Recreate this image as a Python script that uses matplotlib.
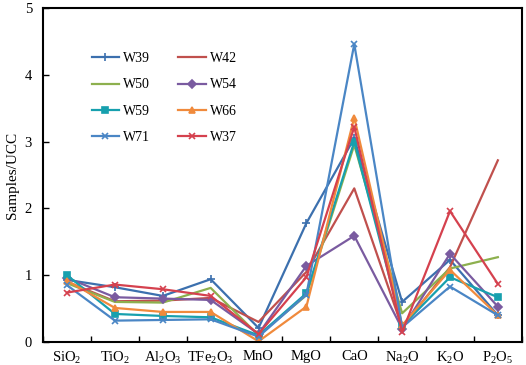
import matplotlib
matplotlib.use("Agg")
import matplotlib.pyplot as plt
import numpy as np

plt.rcParams['font.family'] = ['Liberation Serif', 'DejaVu Serif']
plt.rcParams['mathtext.fontset'] = 'custom'
plt.rcParams['mathtext.rm'] = 'Liberation Serif'
plt.rcParams['mathtext.it'] = 'Liberation Serif:italic'

categories = [r'SiO$\mathregular{_2}$', r'TiO$\mathregular{_2}$', r'Al$\mathregular{_2}$O$\mathregular{_3}$',
              r'TFe$\mathregular{_2}$O$\mathregular{_3}$', 'MnO', 'MgO', 'CaO',
              r'Na$\mathregular{_2}$O', r'K$\mathregular{_2}$O', r'P$\mathregular{_2}$O$\mathregular{_5}$']

W39 = [0.93, 0.82, 0.69, 0.94, 0.21, 1.78, 3.05, 0.60, 1.23, 0.40]
W42 = [0.90, 0.61, 0.62, 0.66, 0.30, 1.05, 2.30, 0.22, 1.12, 2.72]
W50 = [0.88, 0.60, 0.59, 0.81, 0.10, 0.70, 2.95, 0.43, 1.10, 1.27]
W54 = [0.96, 0.67, 0.65, 0.63, 0.12, 1.14, 1.59, 0.20, 1.32, 0.53]
W59 = [1.00, 0.42, 0.39, 0.37, 0.10, 0.73, 3.00, 0.24, 0.97, 0.67]
W66 = [0.92, 0.51, 0.45, 0.45, 0.01, 0.53, 3.36, 0.25, 1.08, 0.40]
W71 = [0.85, 0.32, 0.33, 0.34, 0.08, 0.71, 4.46, 0.22, 0.83, 0.40]
W37 = [0.74, 0.86, 0.79, 0.69, 0.12, 0.97, 3.22, 0.15, 1.96, 0.87]

series = [
    ('W39', W39, '#3C70AE', '+', 6),
    ('W42', W42, '#C0504D', None, 0),
    ('W50', W50, '#8DB04E', None, 0),
    ('W54', W54, '#7A5BA0', 'D', 4),
    ('W59', W59, '#17A0AE', 's', 5),
    ('W66', W66, '#F08A3C', '^', 5),
    ('W71', W71, '#4A86C5', 'x', 5),
    ('W37', W37, '#D5414E', 'x', 5),
]

fig = plt.figure(figsize=(5.26, 3.65), dpi=100)
ax = fig.add_axes([0.082, 0.063, 0.910, 0.915])

x = np.arange(len(categories))
handles = {}
for name, vals, col, mk, ms in series:
    kw = {}
    if mk is not None:
        kw = dict(marker=mk, markersize=ms, markeredgewidth=1.2,
                  markerfacecolor=col, markeredgecolor=col)
    h, = ax.plot(x, vals, color=col, linewidth=1.6, label=name, **kw)
    handles[name] = h

ax.set_xlim(-0.5, len(categories) - 0.5)
ax.set_ylim(0, 5)
ax.set_yticks([0, 1, 2, 3, 4, 5])
ax.set_xticks(x)
ax.set_xticklabels(categories, fontsize=10.5)
ax.set_xticks(np.arange(-0.5, len(categories) + 0.5, 1), minor=True)
ax.tick_params(axis='x', which='major', length=0, pad=6)
ax.tick_params(axis='x', which='minor', direction='in', length=4, width=1)
ax.tick_params(axis='y', direction='in', length=4, width=1, labelsize=10.5, pad=8)
for s in ax.spines.values():
    s.set_linewidth(1.5)
ax.set_ylabel('Samples/UCC', fontsize=11)
ax.yaxis.set_label_coords(-0.05, 0.5)

order = ['W39', 'W50', 'W59', 'W71', 'W42', 'W54', 'W66', 'W37']
ax.legend([handles[n] for n in order], order, loc='upper left',
          bbox_to_anchor=(0.075, 0.905), ncol=2, frameon=False,
          fontsize=10, handlelength=2.0, handletextpad=0.3, columnspacing=2.0,
          labelspacing=0.95)

fig.savefig('out.png', dpi=100)
